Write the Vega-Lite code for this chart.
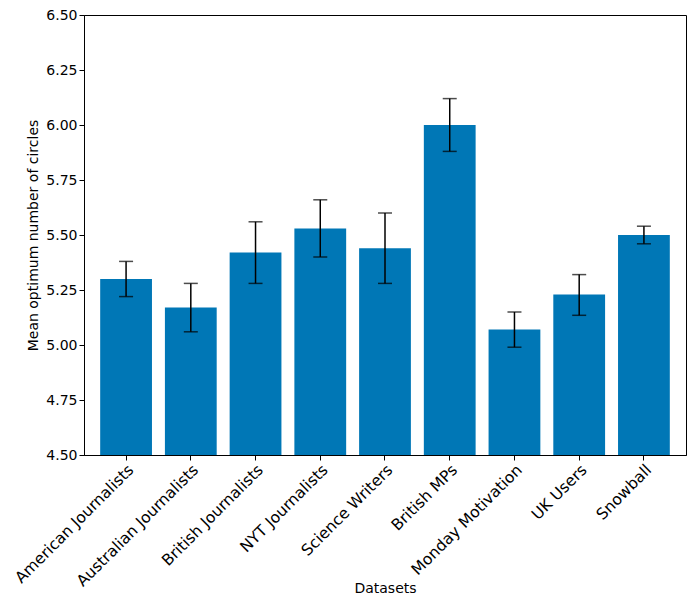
{
  "$schema": "https://vega.github.io/schema/vega-lite/v6.json",
  "autosize": {"type": "none"},
  "padding": {"left": 84, "top": 15, "right": 9, "bottom": 150},
  "width": 602,
  "height": 440,
  "config": {
    "view": {"stroke": "#000000", "strokeWidth": 1},
    "font": "DejaVu Sans",
    "axis": {
      "labelFont": "DejaVu Sans",
      "titleFont": "DejaVu Sans",
      "labelFontSize": 14,
      "titleFontSize": 14,
      "titleFontWeight": "normal",
      "labelColor": "#000000",
      "titleColor": "#000000",
      "tickColor": "#000000",
      "domainColor": "#000000",
      "tickSize": 5,
      "grid": false
    }
  },
  "data": {
    "values": [
      {"dataset": "American Journalists", "mean": 5.30, "lo": 5.22, "hi": 5.38},
      {"dataset": "Australian Journalists", "mean": 5.17, "lo": 5.06, "hi": 5.28},
      {"dataset": "British Journalists", "mean": 5.42, "lo": 5.28, "hi": 5.56},
      {"dataset": "NYT Journalists", "mean": 5.53, "lo": 5.40, "hi": 5.66},
      {"dataset": "Science Writers", "mean": 5.44, "lo": 5.28, "hi": 5.60},
      {"dataset": "British MPs", "mean": 6.00, "lo": 5.88, "hi": 6.12},
      {"dataset": "Monday Motivation", "mean": 5.07, "lo": 4.99, "hi": 5.15},
      {"dataset": "UK Users", "mean": 5.23, "lo": 5.135, "hi": 5.32},
      {"dataset": "Snowball", "mean": 5.50, "lo": 5.46, "hi": 5.54}
    ]
  },
  "encoding": {
    "x": {
      "field": "dataset",
      "type": "nominal",
      "sort": null,
      "scale": {"paddingInner": 0.2, "paddingOuter": 0.25},
      "axis": {
        "title": "Datasets",
        "labelAngle": -45,
        "labelAlign": "right",
        "labelBaseline": "top",
        "labelFontSize": 15.6,
        "labelPadding": 2,
        "titlePadding": -8
      }
    }
  },
  "layer": [
    {
      "mark": {"type": "bar", "color": "#0077b6", "clip": true},
      "encoding": {
        "y": {
          "field": "mean",
          "type": "quantitative",
          "scale": {"domain": [4.5, 6.5], "zero": false, "nice": false},
          "axis": {
            "title": "Mean optimum number of circles",
            "values": [4.5, 4.75, 5.0, 5.25, 5.5, 5.75, 6.0, 6.25, 6.5],
            "format": ".2f",
            "titlePadding": 5
          }
        }
      }
    },
    {
      "mark": {"type": "rule", "color": "#000000", "strokeWidth": 1.5},
      "encoding": {
        "y": {"field": "lo", "type": "quantitative"},
        "y2": {"field": "hi"}
      }
    },
    {
      "mark": {"type": "tick", "color": "#000000", "thickness": 1.5, "size": 14},
      "encoding": {"y": {"field": "lo", "type": "quantitative"}}
    },
    {
      "mark": {"type": "tick", "color": "#000000", "thickness": 1.5, "size": 14},
      "encoding": {"y": {"field": "hi", "type": "quantitative"}}
    }
  ]
}
